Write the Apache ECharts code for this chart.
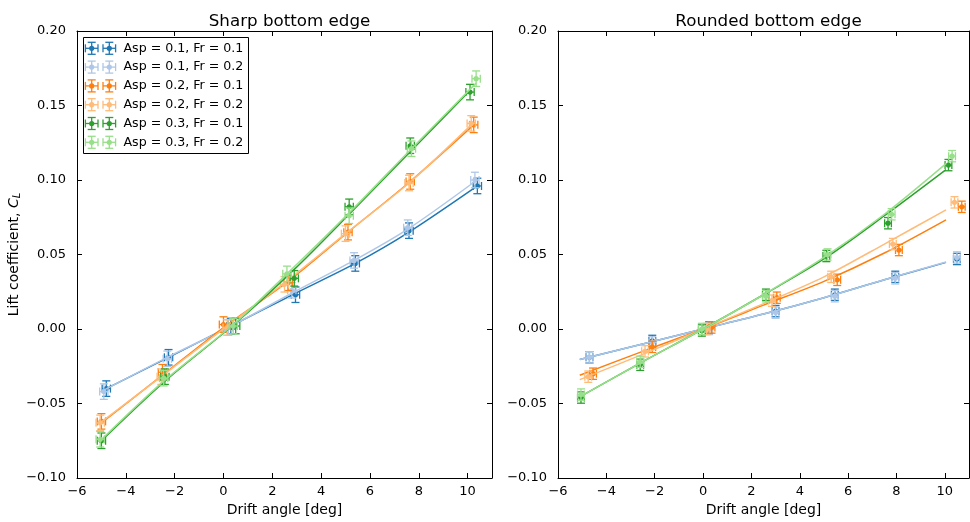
<!DOCTYPE html>
<html>
<head>
<meta charset="utf-8">
<script src="https://cdn.jsdelivr.net/npm/echarts@6/dist/echarts.min.js"></script>
<style>html,body{margin:0;padding:0;background:#fff;}#c{width:970px;height:522px;}</style>
</head>
<body>
<div id="c"></div>
<script>
// ---------- data ----------
const seriesNames = ['Asp = 0.1, Fr = 0.1','Asp = 0.1, Fr = 0.2','Asp = 0.2, Fr = 0.1','Asp = 0.2, Fr = 0.2','Asp = 0.3, Fr = 0.1','Asp = 0.3, Fr = 0.2'];
const seriesColors = ['#1f77b4','#aec7e8','#ff7f0e','#ffbb78','#2ca02c','#98df8a'];
const panelTitles = ['Sharp bottom edge','Rounded bottom edge'];
const xTickValues = [-6,-4,-2,0,2,4,6,8,10];
const yTickValues = [-0.10,-0.05,0.00,0.05,0.10,0.15,0.20];

// Sharp bottom edge: measured points [drift angle, CL]
const sharpB1 = [[-4.8,-0.040],[-2.25,-0.019],[0.3,0.002],[2.95,0.023],[5.4,0.044],[7.6,0.066],[10.4,0.096]];
const sharpB2 = [[-4.9,-0.042],[-2.3,-0.020],[0.2,0.001],[2.8,0.026],[5.35,0.046],[7.55,0.068],[10.3,0.100]];
const sharpO1 = [[-5.0,-0.062],[-2.5,-0.029],[0.0,0.003],[2.65,0.031],[5.1,0.065],[7.65,0.099],[10.25,0.137]];
const sharpO2 = [[-5.05,-0.063],[-2.55,-0.032],[0.15,0.001],[2.5,0.030],[5.0,0.064],[7.6,0.098],[10.15,0.138]];
const sharpG1 = [[-5.0,-0.075],[-2.4,-0.032],[0.5,0.002],[2.9,0.034],[5.15,0.082],[7.65,0.123],[10.1,0.159]];
const sharpG2 = [[-5.05,-0.074],[-2.45,-0.033],[0.4,0.002],[2.6,0.037],[5.15,0.076],[7.7,0.121],[10.35,0.168]];
// Sharp bottom edge: fitted curves
const sharpFitB1 = [[-4.8,-0.040],[-2.25,-0.019],[0.3,0.002],[2.95,0.024],[5.4,0.044],[7.6,0.065],[10.4,0.096]];
const sharpFitB2 = [[-4.9,-0.041],[-2.3,-0.019],[0.2,0.001],[2.8,0.024],[5.35,0.046],[7.55,0.067],[10.3,0.099]];
const sharpFitO1 = [[-5.0,-0.063],[-2.5,-0.031],[0.0,0.001],[2.65,0.032],[5.1,0.065],[7.65,0.099],[10.25,0.137]];
const sharpFitO2 = [[-5.05,-0.063],[-2.55,-0.032],[0.15,0.002],[2.5,0.031],[5.0,0.064],[7.6,0.098],[10.15,0.137]];
const sharpFitG1 = [[-5.0,-0.075],[-2.4,-0.035],[0.5,0.004],[2.9,0.040],[5.15,0.077],[7.65,0.119],[10.1,0.160]];
const sharpFitG2 = [[-5.05,-0.075],[-2.45,-0.035],[0.4,0.003],[2.6,0.037],[5.15,0.078],[7.7,0.121],[10.35,0.165]];

// Rounded bottom edge: measured points
const roundB1 = [[-4.7,-0.019],[-2.1,-0.008],[0.25,0.001],[3.0,0.012],[5.45,0.023],[7.95,0.035],[10.5,0.047]];
const roundB2 = [[-4.7,-0.019],[-2.1,-0.009],[0.25,0.000],[3.0,0.011],[5.45,0.022],[7.95,0.034],[10.5,0.048]];
const roundO1 = [[-4.55,-0.030],[-2.1,-0.012],[0.35,0.001],[3.05,0.021],[5.55,0.033],[8.1,0.053],[10.7,0.082]];
const roundO2 = [[-4.75,-0.032],[-2.4,-0.015],[0.15,0.000],[2.85,0.019],[5.3,0.035],[7.85,0.057],[10.4,0.085]];
const roundG1 = [[-5.05,-0.046],[-2.6,-0.024],[-0.05,-0.001],[2.6,0.023],[5.1,0.049],[7.65,0.071],[10.15,0.110]];
const roundG2 = [[-5.05,-0.044],[-2.6,-0.022],[-0.05,0.000],[2.6,0.022],[5.15,0.050],[7.8,0.077],[10.3,0.116]];
// Rounded bottom edge: fitted curves
const roundFitB1 = [[-5.1,-0.0205],[-2.5,-0.010],[0,0.000],[2.5,0.010],[5,0.021],[7.5,0.033],[10.05,0.0447]];
const roundFitB2 = [[-5.1,-0.0205],[-2.5,-0.010],[0,0.000],[2.5,0.010],[5,0.021],[7.5,0.033],[10.05,0.0450]];
const roundFitO1 = [[-5.1,-0.031],[-2.5,-0.015],[0,0.000],[2.5,0.016],[5,0.032],[7.5,0.051],[10.05,0.0733]];
const roundFitO2 = [[-5.1,-0.034],[-2.5,-0.017],[0,0.000],[2.5,0.017],[5,0.035],[7.5,0.057],[10.05,0.080]];
const roundFitG1 = [[-5.1,-0.0456],[-2.5,-0.022],[0,0.000],[2.5,0.023],[5,0.047],[7.5,0.076],[10.05,0.107]];
const roundFitG2 = [[-5.1,-0.0456],[-2.5,-0.022],[0,0.000],[2.5,0.023],[5,0.048],[7.5,0.077],[10.05,0.111]];

// error bar half-widths per panel [x error (deg), y error (CL)]
const sharpErr = [0.17, 0.0052];
const roundErr = [0.14, 0.0038];

const sharpPoints = [sharpB1, sharpB2, sharpO1, sharpO2, sharpG1, sharpG2];
const sharpFits = [sharpFitB1, sharpFitB2, sharpFitO1, sharpFitO2, sharpFitG1, sharpFitG2];
const roundPoints = [roundB1, roundB2, roundO1, roundO2, roundG1, roundG2];
const roundFits = [roundFitB1, roundFitB2, roundFitO1, roundFitO2, roundFitG1, roundFitG2];

// ---------- chart ----------
const FONT = 'DejaVu Sans';
const minus = s => String(s).replace('-', '\u2212');

function errRender(params, api) {
  const x = api.value(0), y = api.value(1), xe = api.value(2), ye = api.value(3);
  const c = api.coord([x, y]);
  const l = api.coord([x - xe, y]), r = api.coord([x + xe, y]);
  const t = api.coord([x, y + ye]), b = api.coord([x, y - ye]);
  const cap = 4;
  const color = api.visual('color');
  const st = {stroke: color, lineWidth: 1.3};
  return {type: 'group', children: [
    {type: 'line', shape: {x1: l[0], y1: c[1], x2: r[0], y2: c[1]}, style: st},
    {type: 'line', shape: {x1: l[0], y1: c[1] - cap, x2: l[0], y2: c[1] + cap}, style: st},
    {type: 'line', shape: {x1: r[0], y1: c[1] - cap, x2: r[0], y2: c[1] + cap}, style: st},
    {type: 'line', shape: {x1: c[0], y1: t[1], x2: c[0], y2: b[1]}, style: st},
    {type: 'line', shape: {x1: c[0] - cap, y1: t[1], x2: c[0] + cap, y2: t[1]}, style: st},
    {type: 'line', shape: {x1: c[0] - cap, y1: b[1], x2: c[0] + cap, y2: b[1]}, style: st},
    {type: 'circle', shape: {cx: c[0], cy: c[1], r: 2.6}, style: {fill: color}}
  ]};
}

const grids = [
  {left: 77, top: 31, width: 415, height: 450},
  {left: 558, top: 31, width: 411, height: 450}
];

const xAxes = [], yAxes = [];
[0, 1].forEach(g => {
  const baseX = {
    type: 'value', gridIndex: g, min: -6, max: 11, interval: 2,
    splitLine: {show: false},
    axisLine: {show: true, onZero: false, lineStyle: {color: '#000', width: 1}},
    axisTick: {show: true, inside: true, length: 5, lineStyle: {color: '#000'}}
  };
  xAxes.push(Object.assign({}, baseX, {
    position: 'bottom',
    name: 'Drift angle [deg]', nameLocation: 'middle', nameGap: 25,
    nameTextStyle: {fontFamily: FONT, fontSize: 14, color: '#000'},
    axisLabel: {show: true, margin: 7, fontFamily: FONT, fontSize: 13, color: '#000',
      showMaxLabel: false, formatter: v => minus(v)}
  }));
  xAxes.push(Object.assign({}, baseX, {position: 'top', axisLabel: {show: false}}));
  const baseY = {
    type: 'value', gridIndex: g, min: -0.1, max: 0.2, interval: 0.05,
    splitLine: {show: false},
    axisLine: {show: true, onZero: false, lineStyle: {color: '#000', width: 1}},
    axisTick: {show: true, inside: true, length: 5, lineStyle: {color: '#000'}}
  };
  const yl = Object.assign({}, baseY, {
    position: 'left',
    axisLabel: {show: true, margin: 11, fontFamily: FONT, fontSize: 13, color: '#000',
      formatter: v => minus(v.toFixed(2))}
  });
  if (g === 0) {
    yl.name = 'Lift coefficient, {i|C}{s|L}';
    yl.nameLocation = 'middle';
    yl.nameGap = 55;
    yl.nameRotate = 90;
    yl.nameTextStyle = {fontFamily: FONT, fontSize: 14, color: '#000',
      rich: {i: {fontFamily: FONT, fontStyle: 'italic', fontSize: 14, color: '#000'},
             s: {fontFamily: FONT, fontStyle: 'italic', fontSize: 10, color: '#000', verticalAlign: 'bottom', padding: [6, 0, 0, 0]}}};
  }
  yAxes.push(yl);
  yAxes.push(Object.assign({}, baseY, {position: 'right', axisLabel: {show: false}}));
});

const series = [];
[[sharpPoints, sharpFits, sharpErr, 0], [roundPoints, roundFits, roundErr, 1]].forEach(([pts, fits, err, g]) => {
  for (let i = 0; i < 6; i++) {
    series.push({
      type: 'line', name: seriesNames[i] + ' fit', xAxisIndex: g * 2, yAxisIndex: g * 2,
      data: fits[i], showSymbol: false, symbol: 'none', smooth: 0.3,
      lineStyle: {color: seriesColors[i], width: 1.5}, z: 2 + i, silent: true
    });
    series.push({
      type: 'custom', name: seriesNames[i], xAxisIndex: g * 2, yAxisIndex: g * 2,
      data: pts[i].map(p => [p[0], p[1], err[0], err[1]]),
      encode: {x: 0, y: 1},
      itemStyle: {color: seriesColors[i]},
      renderItem: errRender, z: 2 + i, silent: true
    });
  }
});

// legend (matplotlib-like box)
const legendEls = [];
const lx = 83, ly = 37, lw = 165, lh = 116;
legendEls.push({type: 'rect', shape: {x: lx + 0.5, y: ly + 0.5, width: lw, height: lh},
  style: {fill: '#fff', stroke: '#000', lineWidth: 1}, z: 100});
seriesNames.forEach((nm, i) => {
  const cy = ly + 11.3 + i * 18.8;
  [91.7, 109.3].forEach(cx => {
    const st = {stroke: seriesColors[i], lineWidth: 1.3};
    const hw = 6.3, hh = 6, cap = 4;
    legendEls.push({type: 'line', shape: {x1: cx - hw, y1: cy, x2: cx + hw, y2: cy}, style: st, z: 101});
    legendEls.push({type: 'line', shape: {x1: cx - hw, y1: cy - cap, x2: cx - hw, y2: cy + cap}, style: st, z: 101});
    legendEls.push({type: 'line', shape: {x1: cx + hw, y1: cy - cap, x2: cx + hw, y2: cy + cap}, style: st, z: 101});
    legendEls.push({type: 'line', shape: {x1: cx, y1: cy - hh, x2: cx, y2: cy + hh}, style: st, z: 101});
    legendEls.push({type: 'line', shape: {x1: cx - cap, y1: cy - hh, x2: cx + cap, y2: cy - hh}, style: st, z: 101});
    legendEls.push({type: 'line', shape: {x1: cx - cap, y1: cy + hh, x2: cx + cap, y2: cy + hh}, style: st, z: 101});
    legendEls.push({type: 'circle', shape: {cx: cx, cy: cy, r: 2.6}, style: {fill: seriesColors[i]}, z: 101});
  });
  legendEls.push({type: 'text', x: 123.5, y: cy, z: 101,
    style: {text: nm, fontFamily: FONT, fontSize: 12.6, fill: '#000', verticalAlign: 'middle', align: 'left'}});
});

const chart = echarts.init(document.getElementById('c'), null, {renderer: 'canvas'});
chart.setOption({
  animation: false,
  backgroundColor: '#fff',
  title: panelTitles.map((t, i) => ({
    text: t, left: grids[i].left + grids[i].width / 2, top: 8, textAlign: 'center',
    textStyle: {fontFamily: FONT, fontSize: 16.7, fontWeight: 'normal', color: '#000'}
  })),
  grid: grids,
  xAxis: xAxes,
  yAxis: yAxes,
  series: series,
  graphic: legendEls
});
</script>
</body>
</html>
